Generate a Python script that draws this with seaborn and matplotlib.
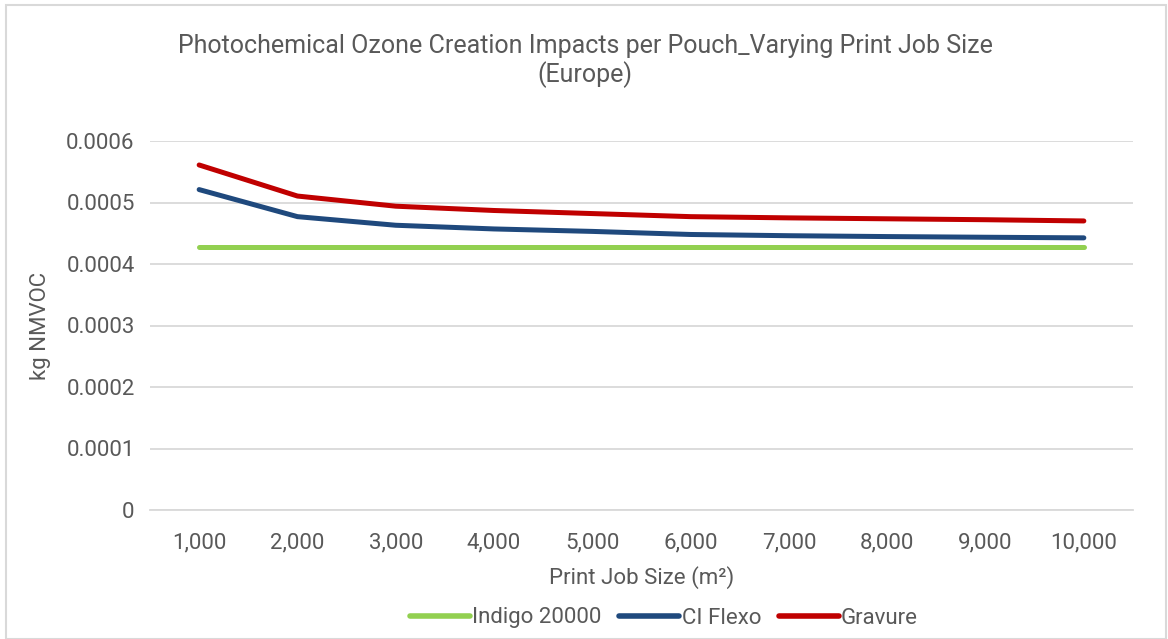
import matplotlib
matplotlib.use("Agg")
import matplotlib.pyplot as plt
from matplotlib.patches import Rectangle
import numpy as np
import pandas as pd
import seaborn as sns

# chart data
job_sizes = ["1,000", "2,000", "3,000", "4,000", "5,000",
             "6,000", "7,000", "8,000", "9,000", "10,000"]
indigo = [0.000427] * 10
ci_flexo = [0.000521, 0.000477, 0.000463, 0.000457, 0.000453,
            0.000448, 0.000446, 0.0004446, 0.0004435, 0.0004425]
gravure = [0.000561, 0.0005105, 0.000494, 0.000487, 0.000482,
           0.000477, 0.000475, 0.0004735, 0.000472, 0.00047]
series_names = ["Indigo 20000", "CI Flexo", "Gravure"]
colors = ["#92d050", "#1f497d", "#c00000"]

df = pd.DataFrame({
    "x": list(range(len(job_sizes))) * 3,
    "value": indigo + ci_flexo + gravure,
    "series": np.repeat(series_names, len(job_sizes)),
})

sns.set_style("white")
plt.rcParams["font.family"] = ["Roboto", "DejaVu Sans"]
text_color = "#595959"
grid_color = "#d9d9d9"

fig = plt.figure(figsize=(11.68, 6.39), dpi=100)
ax = fig.add_axes([150 / 1168, 1 - 510 / 639, (1133 - 150) / 1168, (510 - 141) / 639])

sns.lineplot(data=df, x="x", y="value", hue="series", palette=colors,
             linewidth=3.6, ax=ax, legend=False)
for line in ax.lines:
    line.set_solid_capstyle("round")

ax.set_xlim(-0.5, len(job_sizes) - 0.5)
ax.set_ylim(0, 0.0006)
ax.set_yticks(np.arange(0, 0.00061, 0.0001))
ax.set_yticklabels(["0", "0.0001", "0.0002", "0.0003", "0.0004", "0.0005", "0.0006"])
ax.set_xticks(range(len(job_sizes)))
ax.set_xticklabels(job_sizes)
ax.set_xticks(np.arange(-0.5, len(job_sizes), 1.0), minor=True)
ax.tick_params(axis="x", which="major", length=0, pad=16, labelsize=16, labelcolor=text_color)
ax.tick_params(axis="x", which="minor", length=6, color=grid_color, width=1.2)
ax.tick_params(axis="y", length=0, pad=11, labelsize=16, labelcolor=text_color)
ax.yaxis.grid(True, color=grid_color, linewidth=1.3)
ax.set_axisbelow(True)
for side in ["left", "right", "top"]:
    ax.spines[side].set_visible(False)
ax.spines["bottom"].set_color(grid_color)
ax.spines["bottom"].set_linewidth(1.3)

ax.set_xlabel("Print Job Size (m²)", fontsize=16, color=text_color, labelpad=9)
ax.set_ylabel("kg NMVOC", fontsize=16, color=text_color, labelpad=11)
fig.text(585 / 1168, 1 - 61 / 639,
         "Photochemical Ozone Creation Impacts per Pouch_Varying Print Job Size\n(Europe)",
         ha="center", va="center", fontsize=18, color=text_color, linespacing=1.15)

handles = [plt.Line2D([], [], color=c, linewidth=4, solid_capstyle="round") for c in colors]
fig.legend(handles, series_names, loc="center", bbox_to_anchor=(664 / 1168, 1 - 618 / 639),
           ncol=3, frameon=False, labelcolor=text_color,
           handlelength=2.7, handletextpad=0.1, columnspacing=0.8,
           prop={"size": 16})

# chart border
fig.patches.append(Rectangle((6 / 1168, 0), 1 - 8 / 1168, 1 - 5 / 639,
                             transform=fig.transFigure, fill=False,
                             edgecolor="#d9d9d9", linewidth=1.5))

fig.savefig("out.png", dpi=100)
